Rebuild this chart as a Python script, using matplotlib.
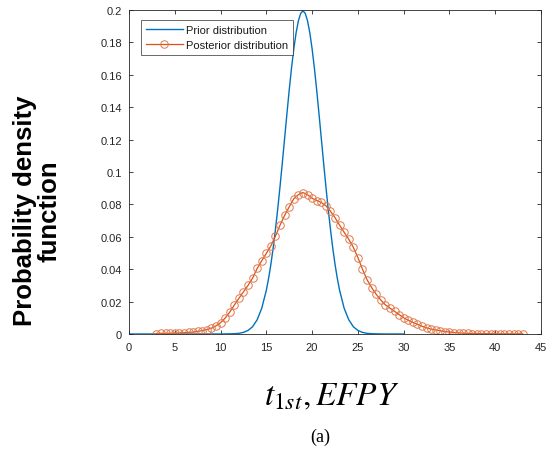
import numpy as np
import matplotlib
matplotlib.use("Agg")
import matplotlib.pyplot as plt

plt.rcParams['font.family'] = ['Liberation Sans', 'DejaVu Sans']
plt.rcParams['mathtext.fontset'] = 'stix'

# Prior distribution (normal, centred at 19 EFPY)
prior_x = [0, 5, 10, 11, 11.5, 12, 12.5, 13, 13.5, 14, 14.5, 15,
           15.25, 15.5, 15.75, 16, 16.25, 16.5, 16.75, 17, 17.25, 17.5, 17.75,
           18, 18.25, 18.5, 18.75, 19,
           19.25, 19.5, 19.75, 20, 20.25, 20.5, 20.75, 21, 21.25, 21.5, 21.75,
           22, 22.25, 22.5, 22.75, 23,
           23.5, 24, 24.5, 25, 25.5, 26, 26.5, 27, 28, 30]
prior_y = [0, 0, 0, 0.0001, 0.0002, 0.0004, 0.0010, 0.0022, 0.0045, 0.0088, 0.0159, 0.0270,
           0.0344, 0.0431, 0.0533, 0.0648, 0.0775, 0.0913, 0.1059, 0.1210, 0.1360, 0.1506, 0.1641,
           0.1760, 0.1859, 0.1933, 0.1979, 0.1995,
           0.1979, 0.1933, 0.1859, 0.1760, 0.1641, 0.1506, 0.1360, 0.1210, 0.1059, 0.0913, 0.0775,
           0.0648, 0.0533, 0.0431, 0.0344, 0.0270,
           0.0159, 0.0088, 0.0045, 0.0022, 0.0010, 0.0004, 0.0002, 0.0001, 0, 0]

# Posterior distribution sampled every 0.5 EFPY from 3 to 43
post_x = [3.0 + 0.5 * i for i in range(81)]
post_y = [0.0003, 0.0004, 0.0004, 0.0005, 0.0006, 0.0007, 0.0008, 0.0010, 0.0012, 0.0016,
          0.0021, 0.0027, 0.0036, 0.0050, 0.0070, 0.0098, 0.0135, 0.0178, 0.0220, 0.0260,
          0.0300, 0.0345, 0.0405, 0.0452, 0.0498, 0.0545, 0.0605, 0.0672, 0.0732, 0.0785,
          0.0835, 0.0860, 0.0873, 0.0860, 0.0838, 0.0824, 0.0812, 0.0792, 0.0758, 0.0718,
          0.0672, 0.0628, 0.0585, 0.0535, 0.0472, 0.0400, 0.0335, 0.0287, 0.0245, 0.0210,
          0.0180, 0.0160, 0.0140, 0.0120, 0.0100, 0.0085, 0.0072, 0.0060, 0.0048, 0.0038,
          0.0030, 0.0025, 0.0020, 0.0015, 0.0012, 0.0009, 0.0007, 0.0005, 0.0004, 0.0003,
          0.0003, 0.0002, 0.0002, 0.0002, 0.0001, 0.0001, 0.0001, 0.0001, 0.0001, 0.0001,
          0.0001]

x_ticks = [0, 5, 10, 15, 20, 25, 30, 35, 40, 45]
y_ticks = [0, 0.02, 0.04, 0.06, 0.08, 0.1, 0.12, 0.14, 0.16, 0.18, 0.2]
y_tick_labels = ['0', '0.02', '0.04', '0.06', '0.08', '0.1', '0.12', '0.14', '0.16', '0.18', '0.2']

axis_color = '#262626'

fig = plt.figure(figsize=(5.48, 4.56), dpi=100)
ax = fig.add_axes([129 / 548, 121 / 456, 412 / 548, 324 / 456])

ax.plot(prior_x, prior_y, color='#0072BD', lw=1.0, label='Prior distribution')
ax.plot(post_x, post_y, color='#D95319', lw=0.9, marker='o', markersize=5.4,
        markerfacecolor='none', markeredgecolor='#E0784A', markeredgewidth=0.7,
        label='Posterior distribution')

ax.set_xlim(0, 45)
ax.set_ylim(0, 0.2)
ax.set_xticks(x_ticks)
ax.set_yticks(y_ticks)
ax.set_yticklabels(y_tick_labels)
ax.tick_params(direction='in', length=3, width=0.6, colors=axis_color,
               labelsize=8, top=True, right=True)
ax.tick_params(axis='x', pad=6)
ax.tick_params(axis='y', pad=5)
for s in ax.spines.values():
    s.set_color(axis_color)
    s.set_linewidth(0.6)

leg = ax.legend(loc='upper left', bbox_to_anchor=(0.029, 0.968), fontsize=8,
                frameon=True, fancybox=False, handlelength=3.3, borderpad=0.45,
                labelspacing=0.4, handletextpad=0.3, borderaxespad=0)
leg.get_frame().set_edgecolor(axis_color)
leg.get_frame().set_linewidth(0.6)
for t in leg.get_texts():
    t.set_color('#1a1a1a')

fig.text(37 / 548, 1 - 211 / 456, 'Probability density\nfunction', rotation=90,
         ha='center', va='center', fontsize=18.5, fontweight='bold', linespacing=1.05)
fig.text(332 / 548, 1 - 397 / 456, r'$t_{1st}, EFPY$', ha='center', va='center',
         fontsize=24)
fig.text(320 / 548, 1 - 437 / 456, '(a)', ha='center', va='center', fontsize=13,
         family=['Liberation Serif'])

fig.savefig('out.png', dpi=100)
